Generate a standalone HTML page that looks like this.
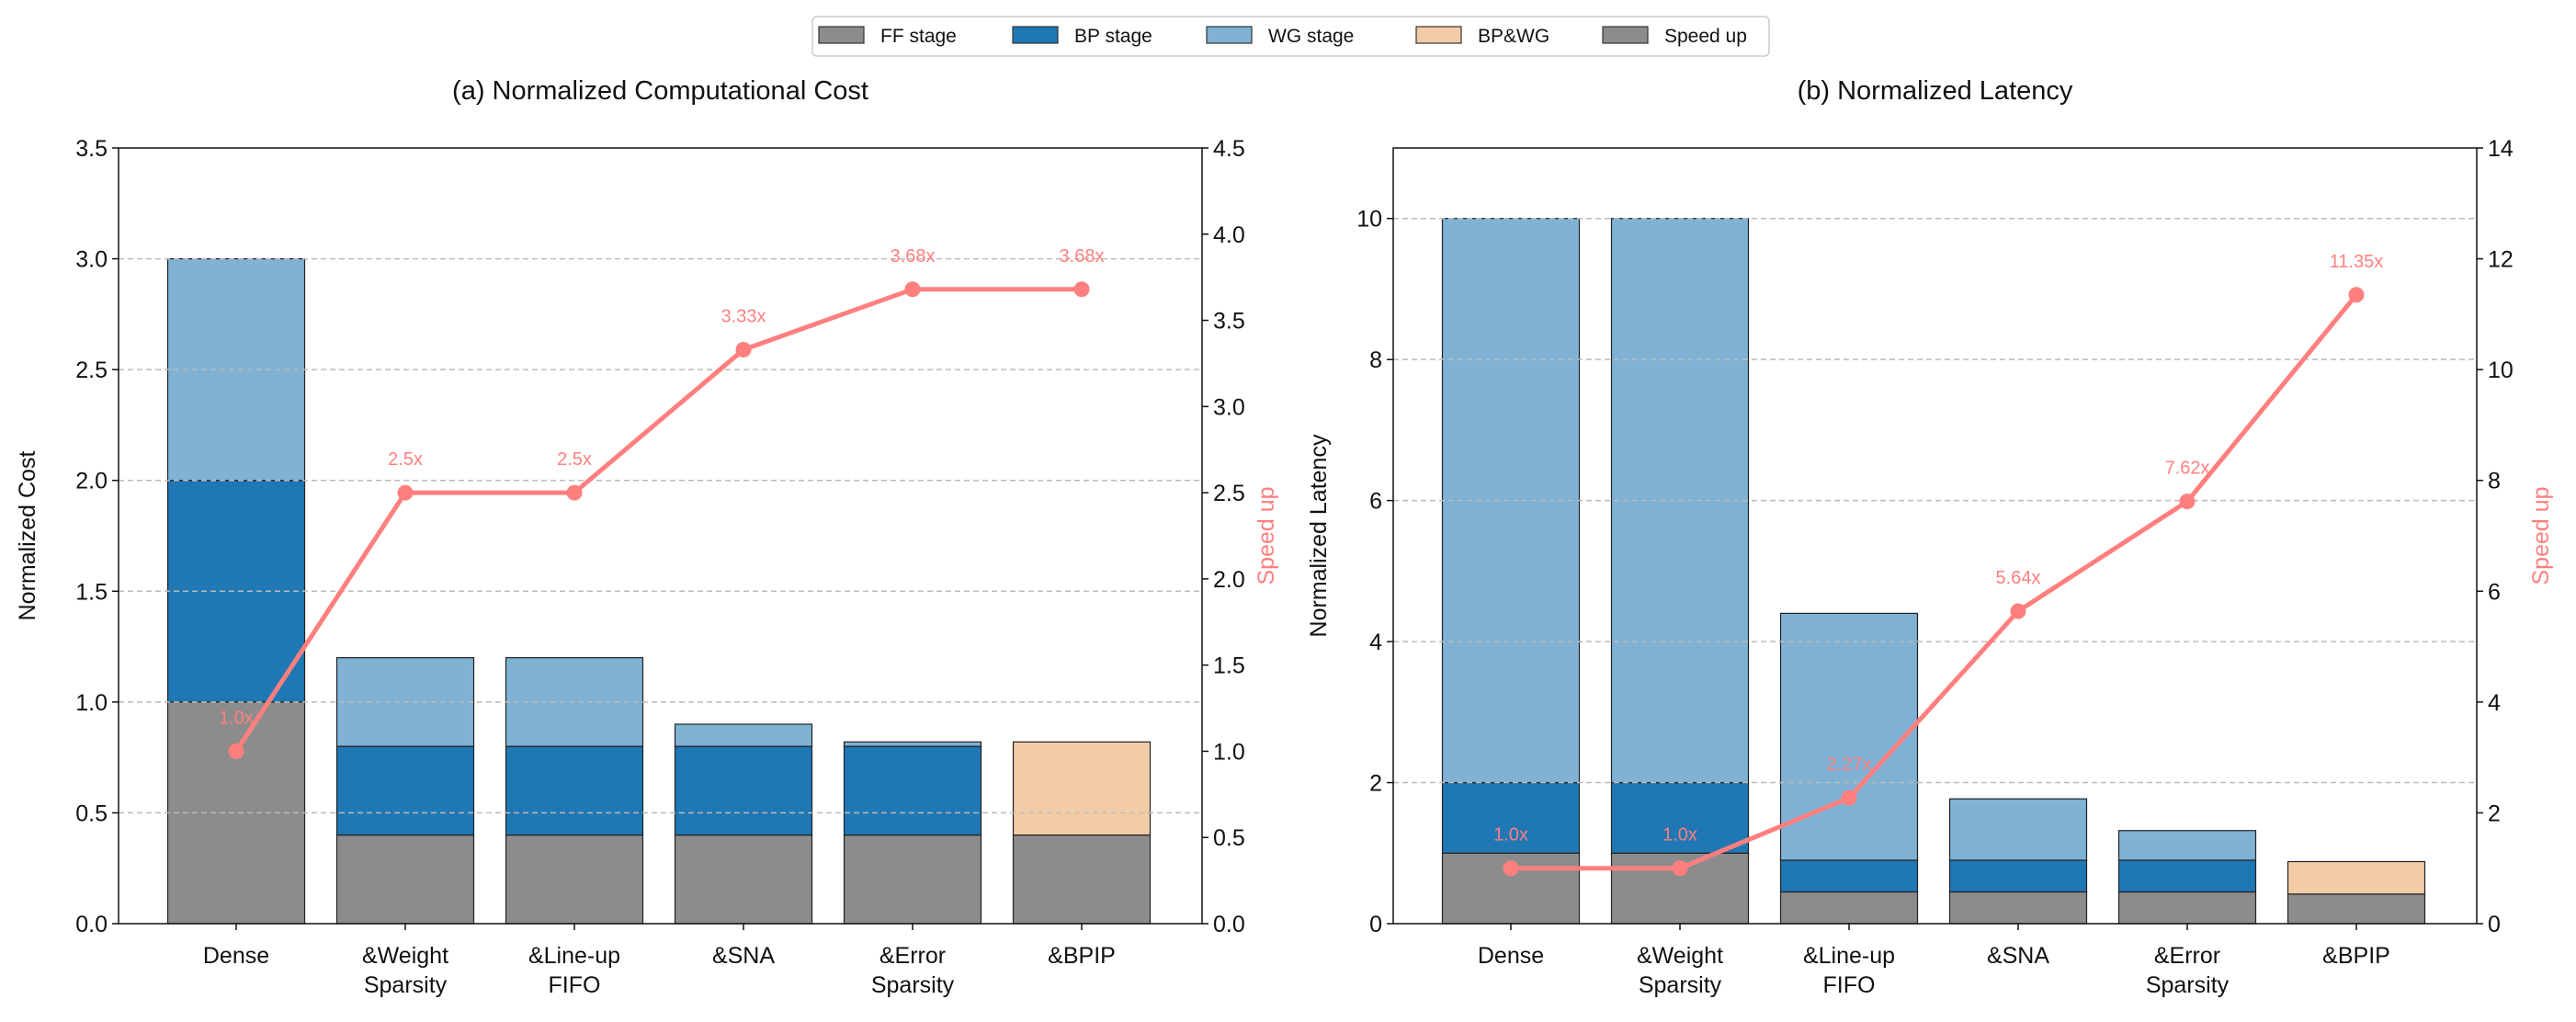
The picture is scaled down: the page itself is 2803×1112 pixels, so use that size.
<!DOCTYPE html>
<html><head><meta charset="utf-8"><style>
html,body{margin:0;padding:0;background:#fff;}
svg{display:block;font-family:"Liberation Sans",sans-serif;}
</style></head><body>
<svg id="chart" width="2803" height="1112" viewBox="0 0 2803 1112" xmlns="http://www.w3.org/2000/svg"></svg>
<script>
const categories = ["Dense", "&Weight|Sparsity", "&Line-up|FIFO", "&SNA", "&Error|Sparsity", "&BPIP"];
const costFF = [1.0, 0.4, 0.4, 0.4, 0.4, 0.4];
const costBP = [1.0, 0.4, 0.4, 0.4, 0.4, 0];
const costWG = [1.0, 0.4, 0.4, 0.1, 0.02, 0];
const costBPWG = [0, 0, 0, 0, 0, 0.42];
const costSpeedup = [1.0, 2.5, 2.5, 3.33, 3.68, 3.68];
const costSpeedLabels = ["1.0x", "2.5x", "2.5x", "3.33x", "3.68x", "3.68x"];
const costTicks = [0, 0.5, 1.0, 1.5, 2.0, 2.5, 3.0, 3.5];
const costSpeedTicks = [0, 0.5, 1.0, 1.5, 2.0, 2.5, 3.0, 3.5, 4.0, 4.5];
const latFF = [1.0, 1.0, 0.45, 0.45, 0.45, 0.42];
const latBP = [1.0, 1.0, 0.45, 0.45, 0.45, 0];
const latWG = [8.0, 8.0, 3.5, 0.87, 0.42, 0];
const latBPWG = [0, 0, 0, 0, 0, 0.46];
const latSpeedup = [1.0, 1.0, 2.27, 5.64, 7.62, 11.35];
const latSpeedLabels = ["1.0x", "1.0x", "2.27x", "5.64x", "7.62x", "11.35x"];
const latTicks = [0, 2, 4, 6, 8, 10];
const latSpeedTicks = [0, 2, 4, 6, 8, 10, 12, 14];

const NS = "http://www.w3.org/2000/svg";
const svg = document.getElementById("chart");
function mk(tag, attrs, parent, text) {
  const e = document.createElementNS(NS, tag);
  for (const k in attrs) e.setAttribute(k, attrs[k]);
  if (text !== undefined) e.textContent = text;
  (parent || svg).appendChild(e);
  return e;
}
const COLORS = {ff:"#8c8c8c", bp:"#1f77b4", wg:"#7fb2d5", bpwg:"#f4cba7", line:"#ff7f7f"};

function drawPanel(cfg) {
  const g = mk("g", {});
  
  
  const {x0, x1, y0, y1, ymax, y2max} = cfg;
  const ys = v => y1 - v / ymax * (y1 - y0);
  const ys2 = v => y1 - v / y2max * (y1 - y0);
  const step = 184, bw = 149;
  const xc = i => cfg.firstX + i * step;
  // title
  const t = mk("text", {x:(x0+x1)/2, y:108, "text-anchor":"middle", "font-size":29, fill:"#111"}, g, cfg.title);
  
  
  // bars
  categories.forEach((c, i) => {
    let base = 0;
    [[cfg.ff, COLORS.ff, "ff"], [cfg.bp, COLORS.bp, "bp"], [cfg.wg, COLORS.wg, "wg"], [cfg.bpwg, COLORS.bpwg, "bpwg"]].forEach(([arr, col, nm]) => {
      const v = arr[i];
      if (v <= 0) return;
      const r = mk("rect", {x:xc(i)-bw/2, y:ys(base+v), width:bw, height:ys(base)-ys(base+v), fill:col, stroke:"#222", "stroke-width":1.2}, g);
      
      
      base += v;
    });
  });
  // grid
  cfg.ticks.forEach(v => {
    if (v === 0 || v === cfg.ticks[cfg.ticks.length-1] && ys(v) <= y0+1) return;
    const l = mk("line", {x1:x0, x2:x1, y1:ys(v), y2:ys(v), stroke:"#bbb", "stroke-width":1.5, "stroke-dasharray":"6,4"}, g);
    
    
  });
  // frame
  const fr = mk("rect", {x:x0, y:y0, width:x1-x0, height:y1-y0, fill:"none", stroke:"#111", "stroke-width":1.5}, g);
  
  
  // left ticks
  cfg.ticks.forEach(v => {
    mk("line", {x1:x0-7, x2:x0, y1:ys(v), y2:ys(v), stroke:"#111", "stroke-width":1.5}, g);
    const tl = mk("text", {x:x0-12, y:ys(v)+9, "text-anchor":"end", "font-size":25, fill:"#111"}, g, cfg.tickFmt(v));
    
    
  });
  cfg.ticks2.forEach(v => {
    mk("line", {x1:x1, x2:x1+7, y1:ys2(v), y2:ys2(v), stroke:"#111", "stroke-width":1.5}, g);
    const tl = mk("text", {x:x1+12, y:ys2(v)+9, "font-size":25, fill:"#111"}, g, cfg.tick2Fmt(v));
    
    
  });
  // x labels
  categories.forEach((c, i) => {
    mk("line", {x1:xc(i), x2:xc(i), y1:y1, y2:y1+7, stroke:"#111", "stroke-width":1.5}, g);
    c.split("|").forEach((ln, k) => {
      const tx = mk("text", {x:xc(i), y:y1+43+k*32, "text-anchor":"middle", "font-size":25, fill:"#111"}, g, ln);
      
      
    });
  });
  // axis titles
  const yl = mk("text", {x:0, y:0, transform:`translate(${cfg.ylabX},${(y0+y1)/2}) rotate(-90)`, "text-anchor":"middle", "font-size":25, fill:"#111"}, g, cfg.ylabel);
  
  
  const yr = mk("text", {x:0, y:0, transform:`translate(${x1+78},${(y0+y1)/2}) rotate(-90)`, "text-anchor":"middle", "font-size":25, fill:COLORS.line}, g, "Speed up");
  
  
  // speedup line
  const pts = cfg.speed.map((v, i) => `${xc(i)},${ys2(v)}`).join(" ");
  const pl = mk("polyline", {points:pts, fill:"none", stroke:COLORS.line, "stroke-width":5, "stroke-linejoin":"round"}, g);
  
  
  cfg.speed.forEach((v, i) => {
    const c = mk("circle", {cx:xc(i), cy:ys2(v), r:8.5, fill:COLORS.line}, g);
    
    
    const tl = mk("text", {x:xc(i), y:ys2(v)-30, "text-anchor":"middle", "font-size":20, fill:COLORS.line}, g, cfg.speedLabels[i]);
    
    
  });
}

drawPanel({name:"cost-panel", title:"(a) Normalized Computational Cost", x0:129, x1:1308, y0:161, y1:1005, ymax:3.5, y2max:4.5,
  firstX:257, ff:costFF, bp:costBP, wg:costWG, bpwg:costBPWG, speed:costSpeedup, speedLabels:costSpeedLabels,
  ticks:costTicks, ticks2:costSpeedTicks, tickFmt:v=>v.toFixed(1), tick2Fmt:v=>v.toFixed(1), ylabel:"Normalized Cost", ylabX:38});
drawPanel({name:"latency-panel", title:"(b) Normalized Latency", x0:1516, x1:2695, y0:161, y1:1005, ymax:11, y2max:14,
  firstX:1644, ff:latFF, bp:latBP, wg:latWG, bpwg:latBPWG, speed:latSpeedup, speedLabels:latSpeedLabels,
  ticks:latTicks, ticks2:latSpeedTicks, tickFmt:v=>String(v), tick2Fmt:v=>String(v), ylabel:"Normalized Latency", ylabX:1443});

// legend
const lg = mk("g", {});


mk("rect", {x:884, y:18, width:1041, height:43, rx:5, fill:"#fff", stroke:"#ccc", "stroke-width":1.5}, lg);
const legendItems = [["FF stage", COLORS.ff, 891], ["BP stage", COLORS.bp, 1102], ["WG stage", COLORS.wg, 1313], ["BP&WG", COLORS.bpwg, 1541], ["Speed up", COLORS.ff, 1744]];
legendItems.forEach(([lab, col, x]) => {
  const r = mk("rect", {x:x, y:29, width:49, height:18, fill:col, stroke:"#333", "stroke-width":1.2}, lg);
  
  
  const t = mk("text", {x:x+67, y:46, "font-size":21, fill:"#111"}, lg, lab);
  
  
});
</script>
</body></html>
